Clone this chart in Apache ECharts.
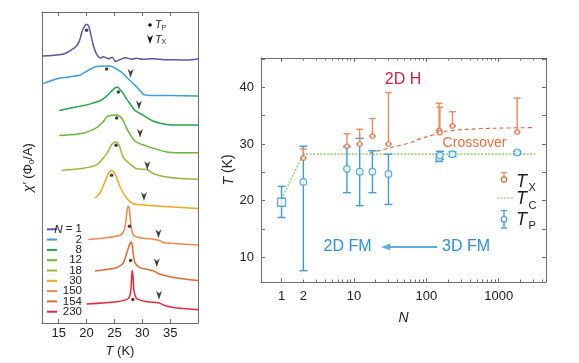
<!DOCTYPE html>
<html><head><meta charset="utf-8">
<script src="https://cdn.jsdelivr.net/npm/echarts@6/dist/echarts.min.js"></script>
<style>html,body{margin:0;padding:0;background:#fff}#c{width:579px;height:363px}</style>
</head><body><div id="c"></div><script>
// ---------- Left panel data: chi' curves (T in K, offset signal in arbitrary units) ----------
const curveLabels = ['1','2','8','12','18','30','150','154','230'];
const curveColors = ['#5a55a8','#3a9ee0','#22a64b','#66bb2f','#9fb53c','#f2a81d','#f4874a','#e5682c','#e9283c'];
const chiN1 = [[12,274.7],[13,275],[14,275.5],[15,276],[16,277],[17,280],[18,284],[18.7,290],[19.2,300],[19.7,306],[20,307.3],[20.4,305],[20.8,296],[21.2,286],[21.6,279],[22,275],[22.5,272.5],[23,274],[23.5,273],[24,272],[24.6,273.5],[25.2,269],[26,271],[27,273],[28,271.5],[29,272.5],[30,271.5],[32,272],[34,271],[36,271],[38,270.5],[40,272]];
const chiN2 = [[12,246],[13,248],[14,250],[15.2,252],[16.5,253],[17.5,254],[18.8,255],[20,259],[20.6,261],[21.8,264],[23,264.5],[24,264.5],[24.7,263.7],[25.5,261],[26.5,257],[27.5,251],[28.3,247],[29.3,241],[30.2,235.3],[31,234.3],[32,234],[35,234],[40,233.7]];
const chiN8 = [[15.1,218.7],[17,221],[19.4,223.7],[21,226],[22.4,228.7],[23.5,233],[24.2,237],[25.1,242],[25.6,242.5],[26,240.3],[26.6,236],[27.2,230.3],[28,224],[28.7,218.7],[30.2,213.7],[32,207.7],[34.4,204.3],[36,203.7],[40,203.7]];
const chiN12 = [[15.1,193],[19.4,195.3],[21.8,201],[23,207],[23.6,212],[24.5,213.7],[25.3,214],[26,212.7],[26.6,208],[27.2,200.3],[28.7,187],[30.8,182],[32.6,178.7],[34.4,176],[36,175.3],[40,175.3]];
const chiN18 = [[15.5,157],[19.4,159.3],[21.8,162.7],[23.3,172],[23.9,177],[24.5,183.7],[25.1,186.3],[25.6,185.5],[26,180.3],[26.6,170.3],[27.8,163.7],[29,158.7],[30.8,158],[32,153.7],[34.4,150.3],[36.8,148.7],[40,148]];
const chiN30 = [[21.5,128.7],[22.4,133.7],[23.3,145.3],[23.9,153.7],[24.4,157],[25.1,153.7],[26,140.3],[27.2,128.7],[28.4,122.7],[30.8,121.3],[35.6,119.3],[40,118]];
const chiN150 = [[20.3,86],[23.6,87.7],[26,90.3],[26.6,93.7],[26.9,99],[27.1,107],[27.3,117],[27.5,120.3],[27.7,117],[27.9,104],[28.1,96],[28.4,90.3],[29.6,87.7],[32,86.3],[32.9,85.3],[33.8,83],[35.6,82],[40,80.3]];
const chiN154 = [[21.5,53.7],[25.4,57],[26.6,62],[27.3,73.7],[27.8,82],[28.0,83.5],[28.2,80],[28.4,70.3],[28.7,62],[29.6,57],[32,53.7],[33.2,50.3],[35.6,47],[40,43.7]];
const chiN230 = [[20,19.7],[25.4,22],[27.5,25.3],[27.9,32],[28.1,47],[28.2,54],[28.35,47],[28.5,33.7],[29,25.3],[30.8,22],[32.9,21],[33.8,18.7],[35.6,16],[40,13.7]];
const chiCurves = [chiN1,chiN2,chiN8,chiN12,chiN18,chiN30,chiN150,chiN154,chiN230];
const tpLeftT = [20.0,23.6,25.7,25.4,25.3,24.5,27.7,27.9,28.3];
const tpLeftV = [301.3,261.3,237.7,211,183,152,99.7,64.3,24.3];
const txLeftT = [27.9,29.4,29.6,30.9,30.3,32.9,32.6,33.0];
const txLeftV = [257,224.3,195.3,162,130.3,92,62,28.7];
const leftTicks = [15,20,25,30,35];

// ---------- Right panel data ----------
const tpN   = [1,2,8,12,18,30,150,154,230,1800];
const tpVal = [19.7,23.3,25.6,25.1,25.1,24.7,27.5,28.0,28.2,28.5];
const tpLo  = [17.0,7.6,21.4,19.1,21.4,19.3,26.9,27.3,27.8,28.3];
const tpHi  = [22.5,29.6,29.5,31.0,28.8,28.2,28.2,28.7,28.6,28.7];
const txN   = [2,8,12,18,30,150,154,230,1800];
const txVal = [27.5,29.6,30.0,31.4,30.0,32.4,32.0,33.2,32.1];
const txHi  = [29.1,31.8,32.6,34.5,39.1,37.2,36.5,35.7,38.1];
const tcN = [1,2,3200];
const tcT = [20.3,28.2,28.2];
const crossN = [16.6,31,59,82,124,153,234,550,1000,3000];
const crossT = [28.4,29.3,30.2,30.9,31.6,32.0,32.4,32.7,32.8,32.9];
const nMajor = [1,10,100,1000];
const nMinor = [2,3,4,5,6,7,8,9,20,30,40,50,60,70,80,90,200,300,400,500,600,700,800,900,2000,3000,4000];
const nLabels = [1,2,10,100,1000];
const tTicks = [10,15,20,25,30,35,40,45];
const tLabels = [10,20,30,40];

const FONT = '"Liberation Sans", Arial, sans-serif';
const AX = '#6e6e6e';
const BLUE = '#3b9ad8', ORANGE = '#e0653a', ORANGE_L = '#ec8a5e', GREEN = '#7dc242';

function leftX(pos, showLabel) {
  return {gridIndex:0, type:'value', position:pos, min:12, max:40,
    axisLine:{show:true, onZero:false, lineStyle:{color:AX, width:1}},
    axisTick:{show:true, inside:true, length:4, customValues:leftTicks, lineStyle:{color:AX}},
    axisLabel:{show:showLabel, customValues:leftTicks, color:'#222', fontSize:13, fontFamily:FONT, margin:4},
    splitLine:{show:false}};
}
function rightX(pos, vals, len, showLine, showLabel) {
  return {gridIndex:1, type:'log', logBase:10, position:pos, min:0.52, max:4500,
    axisLine:{show:showLine, onZero:false, lineStyle:{color:AX, width:1}},
    axisTick:{show:true, inside:true, length:len, customValues:vals, lineStyle:{color:AX}},
    axisLabel:{show:showLabel, customValues:nLabels, formatter:v=>String(Math.round(v)), color:'#222', fontSize:13, fontFamily:FONT, margin:8},
    splitLine:{show:false}, minorTick:{show:false}};
}
function errSeries(rows, color, capW, lw) {
  return {type:'custom', xAxisIndex:2, yAxisIndex:2, data:rows, z:2, silent:true,
    encode:{x:0, y:[1,2]},
    renderItem:(params, api) => {
      const x = api.value(0), lo = api.value(1), hi = api.value(2);
      const a = api.coord([x, lo]), b = api.coord([x, hi]);
      const st = {stroke:color, lineWidth:lw};
      return {type:'group', children:[
        {type:'line', shape:{x1:a[0],y1:a[1],x2:b[0],y2:b[1]}, style:st},
        {type:'line', shape:{x1:a[0]-capW,y1:a[1],x2:a[0]+capW,y2:a[1]}, style:st},
        {type:'line', shape:{x1:b[0]-capW,y1:b[1],x2:b[0]+capW,y2:b[1]}, style:st}]};
    }};
}

const series = [];
chiCurves.forEach((d, i) => series.push({type:'line', xAxisIndex:0, yAxisIndex:0, data:d, smooth:0.25, showSymbol:false,
  lineStyle:{color:curveColors[i], width:1.5}, z:2, silent:true}));
series.push({type:'scatter', xAxisIndex:0, yAxisIndex:0, data:tpLeftT.map((t,i)=>[t,tpLeftV[i]]), symbol:'circle', symbolSize:3.5, itemStyle:{color:'#111'}, z:5, silent:true});
const ARROW = 'path://M0,0 L5,4 L10,0 L5,13 Z';
series.push({type:'scatter', xAxisIndex:0, yAxisIndex:0, data:txLeftT.map((t,i)=>[t,txLeftV[i]]), symbol:ARROW, symbolSize:[6,9], itemStyle:{color:'#111'}, z:5, silent:true});

// right
series.push({type:'line', xAxisIndex:2, yAxisIndex:2, data:tcN.map((n,i)=>[n,tcT[i]]), showSymbol:false, lineStyle:{color:GREEN, width:1.1, type:[2,1.5]}, z:1, silent:true});
series.push({type:'line', xAxisIndex:2, yAxisIndex:2, data:crossN.map((n,i)=>[n,crossT[i]]), smooth:0.4, showSymbol:false, lineStyle:{color:ORANGE, width:1.1, type:[4,3]}, z:1, silent:true});
series.push(errSeries(tpN.map((n,i)=>[n,tpLo[i],tpHi[i]]), BLUE, 4, 1.4));
series.push(errSeries(txN.map((n,i)=>[n,txVal[i],txHi[i]]), ORANGE_L, 3.5, 1.4));
series.push({type:'scatter', xAxisIndex:2, yAxisIndex:2, data:tpN.map((n,i)=>[n,tpVal[i]]),
  symbol:v => v[0]===1 ? 'rect' : 'circle', symbolSize:v => v[0]===1 ? 8 : 6.5,
  itemStyle:{color:'#fff', borderColor:BLUE, borderWidth:1.3}, z:4, silent:true});
series.push({type:'scatter', xAxisIndex:2, yAxisIndex:2, data:txN.map((n,i)=>[n,txVal[i]]),
  symbol:'circle', symbolSize:4.5, itemStyle:{color:'#fff', borderColor:ORANGE, borderWidth:1.2}, z:4, silent:true});

// graphics: legends and annotations
const graphic = [];
curveLabels.forEach((lab, i) => {
  const y = 229.3 + i*10.3;
  graphic.push({type:'line', shape:{x1:47,y1:y,x2:57,y2:y}, style:{stroke:curveColors[i], lineWidth:2}, silent:true});
  graphic.push({type:'text', x:82, y:y, style:{text: i===0 ? '{i|N} = 1' : lab, align:'right', verticalAlign:'middle', fill:'#222', font:'11.5px '+FONT,
    rich:{i:{fontStyle:'italic', fontSize:11.5, fontFamily:FONT, fill:'#222'}}}, silent:true});
});
graphic.push({type:'circle', shape:{cx:150, cy:25, r:1.8}, style:{fill:'#111'}, silent:true});
graphic.push({type:'text', x:155, y:25, style:{text:'T', font:'italic 11px '+FONT, fill:'#222', verticalAlign:'middle'}, silent:true});
graphic.push({type:'text', x:161.5, y:28, style:{text:'P', font:'7px '+FONT, fill:'#222', verticalAlign:'middle'}, silent:true});
graphic.push({type:'polygon', shape:{points:[[147,35],[150,37.8],[153,35],[150,44]]}, style:{fill:'#111'}, silent:true});
graphic.push({type:'text', x:155, y:39.5, style:{text:'T', font:'italic 11px '+FONT, fill:'#222', verticalAlign:'middle'}, silent:true});
graphic.push({type:'text', x:161.5, y:42.5, style:{text:'X', font:'7px '+FONT, fill:'#222', verticalAlign:'middle'}, silent:true});

// right annotations
graphic.push({type:'text', x:403, y:80, style:{text:'2D H', font:'16px '+FONT, fill:'#c8243c', align:'center', verticalAlign:'middle'}, silent:true});
graphic.push({type:'text', x:474.5, y:143, style:{text:'Crossover', font:'14px '+FONT, fill:'#e8703a', align:'center', verticalAlign:'middle'}, silent:true});
graphic.push({type:'text', x:347.5, y:247, style:{text:'2D FM', font:'16px '+FONT, fill:'#2f8fd6', align:'center', verticalAlign:'middle'}, silent:true});
graphic.push({type:'text', x:466, y:247, style:{text:'3D FM', font:'16px '+FONT, fill:'#2f8fd6', align:'center', verticalAlign:'middle'}, silent:true});
graphic.push({type:'line', shape:{x1:437,y1:247,x2:387,y2:247}, style:{stroke:'#5aafe3', lineWidth:2}, silent:true});
graphic.push({type:'polygon', shape:{points:[[381,247],[390,243.8],[390,250.2]]}, style:{fill:'#5aafe3'}, silent:true});
// right legend
graphic.push({type:'line', shape:{x1:504,y1:172.5,x2:504,y2:179.3}, style:{stroke:ORANGE_L, lineWidth:1.3}, silent:true});
graphic.push({type:'line', shape:{x1:501,y1:172.5,x2:507,y2:172.5}, style:{stroke:ORANGE_L, lineWidth:1.3}, silent:true});
graphic.push({type:'circle', shape:{cx:504, cy:179.5, r:2.6}, style:{fill:'#fff', stroke:ORANGE, lineWidth:1.2}, silent:true});
graphic.push({type:'line', shape:{x1:497,y1:198,x2:513,y2:198}, style:{stroke:GREEN, lineWidth:1.1, lineDash:[2,1.5]}, silent:true});
graphic.push({type:'line', shape:{x1:504,y1:210.5,x2:504,y2:228}, style:{stroke:BLUE, lineWidth:1.3}, silent:true});
graphic.push({type:'line', shape:{x1:501,y1:210.5,x2:507,y2:210.5}, style:{stroke:BLUE, lineWidth:1.3}, silent:true});
graphic.push({type:'line', shape:{x1:501,y1:228,x2:507,y2:228}, style:{stroke:BLUE, lineWidth:1.3}, silent:true});
graphic.push({type:'circle', shape:{cx:504, cy:219.3, r:2.8}, style:{fill:'#fff', stroke:BLUE, lineWidth:1.2}, silent:true});
[['X',181.5],['C',199],['P',219.5]].forEach(([s,y]) => {
  graphic.push({type:'text', x:516, y:y, style:{text:'T', font:'italic 18px '+FONT, fill:'#222', verticalAlign:'middle'}, silent:true});
  graphic.push({type:'text', x:528.5, y:y+6.5, style:{text:s, font:'11px '+FONT, fill:'#222', verticalAlign:'middle'}, silent:true});
});

const option = {
  backgroundColor:'#fff',
  animation:false,
  grid:[{left:42, top:12, width:156, height:320}, {left:261, top:58, width:285, height:224}],
  xAxis:[
    Object.assign(leftX('bottom', true), {name:'{i|T} (K)', nameLocation:'middle', nameGap:13,
      nameTextStyle:{fontSize:13, fontFamily:FONT, color:'#222', rich:{i:{fontStyle:'italic', fontSize:13, fontFamily:FONT, color:'#222'}}}}),
    leftX('top', false),
    Object.assign(rightX('bottom', nMajor, 4, true, true), {name:'N', nameLocation:'middle', nameGap:29,
      nameTextStyle:{fontSize:14, fontStyle:'italic', fontFamily:FONT, color:'#222'}}),
    rightX('bottom', nMinor, 2.5, false, false),
    rightX('top', nMajor, 4, true, false),
    rightX('top', nMinor, 2.5, false, false)
  ],
  yAxis:[
    {gridIndex:0, type:'value', position:'left', min:0, max:320, axisLine:{show:true, onZero:false, lineStyle:{color:AX}}, axisTick:{show:false}, axisLabel:{show:false}, splitLine:{show:false},
      name:'{i|χ′} (Φ{s|0}/A)', nameLocation:'middle', nameGap:6, nameRotate:90,
      nameTextStyle:{fontSize:13, fontFamily:FONT, color:'#222', rich:{i:{fontStyle:'italic', fontSize:13, fontFamily:FONT, color:'#222'}, s:{fontSize:8, fontFamily:FONT, color:'#222', padding:[7,0,0,0]}}}},
    {gridIndex:0, type:'value', position:'right', min:0, max:320, axisLine:{show:true, onZero:false, lineStyle:{color:AX}}, axisTick:{show:false}, axisLabel:{show:false}, splitLine:{show:false}},
    {gridIndex:1, type:'value', position:'left', min:5.6, max:45.2,
      axisLine:{show:true, onZero:false, lineStyle:{color:AX}},
      axisTick:{show:true, inside:true, length:4, customValues:tTicks, lineStyle:{color:AX}},
      axisLabel:{customValues:tLabels, color:'#222', fontSize:13, fontFamily:FONT, margin:7}, splitLine:{show:false},
      name:'{i|T} (K)', nameLocation:'middle', nameGap:13, nameRotate:90,
      nameTextStyle:{fontSize:14, fontFamily:FONT, color:'#222', rich:{i:{fontStyle:'italic', fontSize:14, fontFamily:FONT, color:'#222'}}}},
    {gridIndex:1, type:'value', position:'right', min:5.6, max:45.2,
      axisLine:{show:true, onZero:false, lineStyle:{color:AX}},
      axisTick:{show:true, inside:true, length:4, customValues:tTicks, lineStyle:{color:AX}},
      axisLabel:{show:false}, splitLine:{show:false}}
  ],
  series: series,
  graphic: graphic
};
const chart = echarts.init(document.getElementById('c'));
chart.setOption(option);
</script></body></html>
